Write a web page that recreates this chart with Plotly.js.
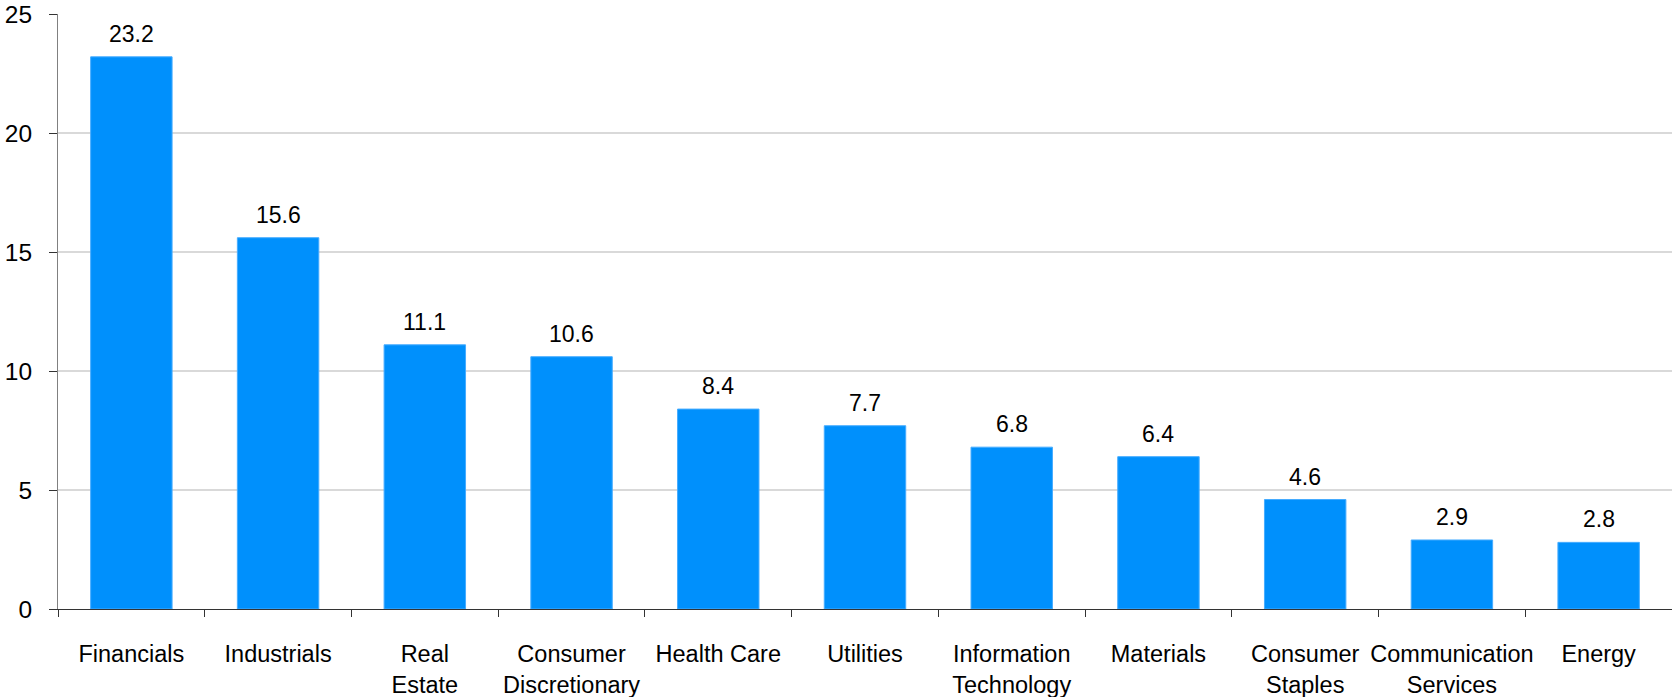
<!DOCTYPE html>
<html>
<head>
<meta charset="utf-8">
<script src="https://cdn.plot.ly/plotly-3.0.1.min.js"></script>
<style>
  html, body { margin: 0; padding: 0; background: #ffffff; }
  #chart { width: 1672px; height: 697px; }
</style>
</head>
<body>
<div id="chart"></div>
<script>
// Sector weights (%)
const sectors = [
  'Financials', 'Industrials', 'Real<br>Estate', 'Consumer<br>Discretionary',
  'Health Care', 'Utilities', 'Information<br>Technology', 'Materials',
  'Consumer<br>Staples', 'Communication<br>Services', 'Energy'
];
const weights = [23.2, 15.6, 11.1, 10.6, 8.4, 7.7, 6.8, 6.4, 4.6, 2.9, 2.8];
const yTicks = [0, 5, 10, 15, 20, 25];

const family = '"Liberation Sans", Arial, sans-serif';
const axisFont = { family: family, size: 23.5, color: '#000000' };
const yFont = { family: family, size: 24.5, color: '#000000' };
const valueFont = { family: family, size: 23, color: '#000000' };

const trace = {
  type: 'bar',
  x: sectors,
  y: weights,
  marker: { color: 'rgb(0,144,252)', line: { color: 'rgb(70,172,255)', width: 1 } },
  hoverinfo: 'x+y'
};

// value labels above each bar
const labels = sectors.map((s, i) => ({
  x: s,
  y: weights[i],
  xref: 'x',
  yref: 'y',
  text: weights[i].toFixed(1),
  showarrow: false,
  yanchor: 'bottom',
  yshift: 8,
  font: valueFont
}));

const layout = {
  width: 1672,
  height: 697,
  margin: { l: 58, r: 0, t: 14, b: 88 },
  paper_bgcolor: '#ffffff',
  plot_bgcolor: '#ffffff',
  font: axisFont,
  showlegend: false,
  bargap: 0.445,
  xaxis: {
    type: 'category',
    showline: true,
    linecolor: '#333333',
    linewidth: 1,
    ticks: 'outside',
    tickson: 'boundaries',
    ticklen: 7,
    tickcolor: '#333333',
    tickfont: axisFont,
    tickangle: 0,
    showgrid: false,
    zeroline: false,
    ticklabelstandoff: 24
  },
  yaxis: {
    range: [0, 25],
    tickvals: yTicks,
    ticktext: yTicks.map(String),
    showline: true,
    linecolor: '#808080',
    linewidth: 1,
    ticks: 'outside',
    ticklen: 8,
    tickcolor: '#333333',
    tickfont: yFont,
    showgrid: true,
    gridcolor: '#d9d9d9',
    gridwidth: 1.5,
    zeroline: false,
    ticklabelstandoff: 12
  },
  annotations: labels
};

Plotly.newPlot('chart', [trace], layout, { displayModeBar: false, responsive: false });
</script>
</body>
</html>
